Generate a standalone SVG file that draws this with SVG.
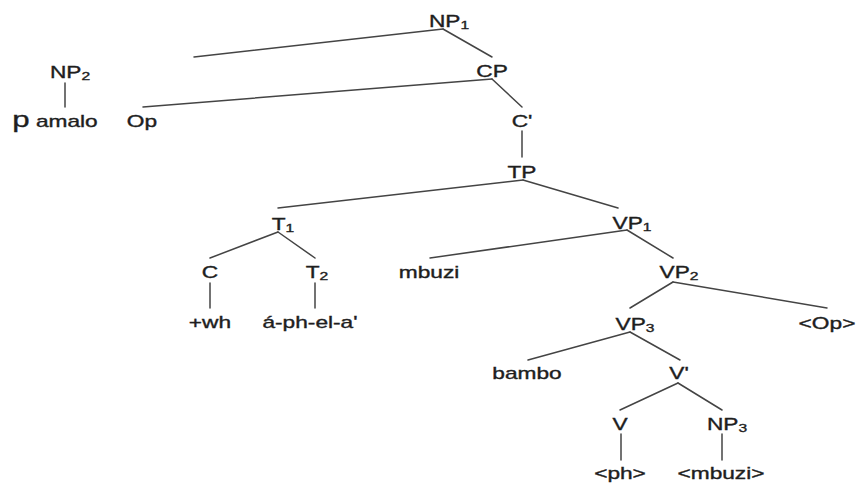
<svg xmlns="http://www.w3.org/2000/svg" width="857" height="483" viewBox="0 0 857 483">
  <style>
    .t { font-family: "Liberation Sans", Arial, sans-serif; font-size: 16px; fill: #1e1e1e; stroke: #1e1e1e; stroke-width: 0.35; text-anchor: middle; }
    .sub { font-size: 11px; }
    .big { font-size: 22px; }
    .edges line { stroke: #444; stroke-width: 1.5; stroke-linecap: round; }
  </style>
  <rect width="857" height="483" fill="#fff"/>

  <!-- tree branches -->
  <g id="connectors" class="edges">
    <line x1="443" y1="29" x2="194" y2="57"/>
    <line x1="443" y1="29" x2="492" y2="57"/>
    <line x1="65" y1="83" x2="65" y2="107"/>
    <line x1="492" y1="79" x2="143" y2="107"/>
    <line x1="492" y1="79" x2="522" y2="107"/>
    <line x1="522" y1="131" x2="522" y2="157"/>
    <line x1="523" y1="180" x2="278" y2="208"/>
    <line x1="523" y1="180" x2="618" y2="208"/>
    <line x1="278" y1="232" x2="210" y2="258"/>
    <line x1="278" y1="232" x2="315" y2="258"/>
    <line x1="210" y1="283" x2="210" y2="308"/>
    <line x1="315" y1="283" x2="315" y2="308"/>
    <line x1="627" y1="230" x2="430" y2="258"/>
    <line x1="627" y1="230" x2="673" y2="258"/>
    <line x1="673" y1="282" x2="630" y2="308"/>
    <line x1="673" y1="282" x2="827" y2="308"/>
    <line x1="630" y1="332" x2="528" y2="360"/>
    <line x1="630" y1="332" x2="680" y2="360"/>
    <line x1="678" y1="383" x2="620" y2="410"/>
    <line x1="678" y1="383" x2="722" y2="410"/>
    <line x1="621" y1="434" x2="621" y2="460"/>
    <line x1="722" y1="434" x2="722" y2="460"/>
  </g>

  <!-- labels, horizontally widened type -->
  <g id="np1"><text class="t" transform="translate(449 27) scale(1.42 1)">NP<tspan class="sub" dy="2">1</tspan></text></g>
  <g id="np2"><text class="t" transform="translate(70 78) scale(1.42 1)">NP<tspan class="sub" dy="2">2</tspan></text></g>
  <g id="pamalo"><text class="t" transform="translate(55 127) scale(1.42 1)"><tspan class="big">p</tspan> amalo</text></g>
  <g id="op"><text class="t" transform="translate(142 127) scale(1.42 1)">Op</text></g>
  <g id="cp"><text class="t" transform="translate(492 77) scale(1.42 1)">CP</text></g>
  <g id="cbar"><text class="t" transform="translate(522 127) scale(1.42 1)">C'</text></g>
  <g id="tp"><text class="t" transform="translate(522 178) scale(1.42 1)">TP</text></g>
  <g id="t1"><text class="t" transform="translate(283 230) scale(1.42 1)">T<tspan class="sub" dy="2">1</tspan></text></g>
  <g id="vp1"><text class="t" transform="translate(632 229) scale(1.42 1)">VP<tspan class="sub" dy="2">1</tspan></text></g>
  <g id="c"><text class="t" transform="translate(210 278) scale(1.42 1)">C</text></g>
  <g id="t2"><text class="t" transform="translate(317 278) scale(1.42 1)">T<tspan class="sub" dy="2">2</tspan></text></g>
  <g id="mbuzi"><text class="t" transform="translate(429 278) scale(1.42 1)">mbuzi</text></g>
  <g id="vp2"><text class="t" transform="translate(679 278) scale(1.42 1)">VP<tspan class="sub" dy="2">2</tspan></text></g>
  <g id="wh"><text class="t" transform="translate(210 328) scale(1.42 1)">+wh</text></g>
  <g id="aphela"><text class="t" transform="translate(310 328) scale(1.42 1)">á-ph-el-a'</text></g>
  <g id="vp3"><text class="t" transform="translate(635 330) scale(1.42 1)">VP<tspan class="sub" dy="2">3</tspan></text></g>
  <g id="op2"><text class="t" transform="translate(827 329) scale(1.42 1)">&lt;Op&gt;</text></g>
  <g id="bambo"><text class="t" transform="translate(527 379) scale(1.42 1)">bambo</text></g>
  <g id="vbar"><text class="t" transform="translate(679 379) scale(1.42 1)">V'</text></g>
  <g id="v"><text class="t" transform="translate(620 430) scale(1.42 1)">V</text></g>
  <g id="np3"><text class="t" transform="translate(727 430) scale(1.42 1)">NP<tspan class="sub" dy="2">3</tspan></text></g>
  <g id="ph"><text class="t" transform="translate(620 479) scale(1.42 1)">&lt;ph&gt;</text></g>
  <g id="mbuzi2"><text class="t" transform="translate(721 479) scale(1.42 1)">&lt;mbuzi&gt;</text></g>
</svg>
